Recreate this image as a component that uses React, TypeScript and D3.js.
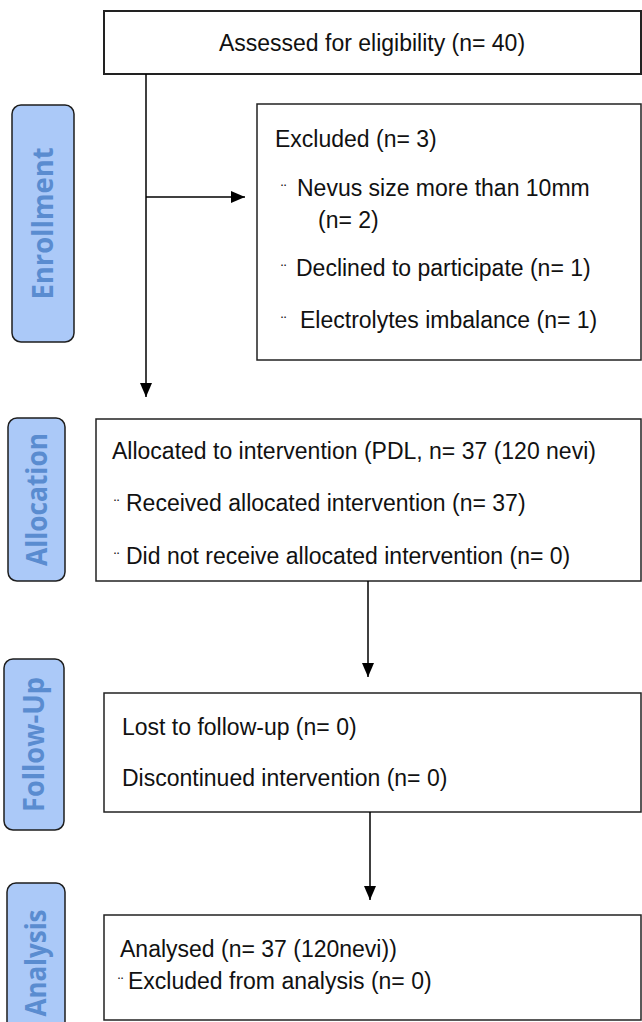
import React, { useEffect, useRef } from 'react';
import { select } from 'd3';

// phase labels on the left
const stages = ['Enrollment', 'Allocation', 'Follow-Up', 'Analysis'];

// box texts, one array per box
const assessedText = ['Assessed for eligibility (n= 40)'];
const excludedText = [
  'Excluded (n= 3)',
  'Nevus size more than 10mm',
  '(n= 2)',
  'Declined to participate (n= 1)',
  'Electrolytes imbalance (n= 1)',
];
const excludedBullets = [false, true, false, true, true];
const allocationText = [
  'Allocated to intervention (PDL, n= 37 (120 nevi)',
  'Received allocated intervention (n= 37)',
  'Did not receive allocated intervention (n= 0)',
];
const allocationBullets = [false, true, true];
const followUpText = ['Lost to follow-up (n= 0)', 'Discontinued intervention (n= 0)'];
const followUpBullets = [false, false];
const analysisText = ['Analysed (n= 37 (120nevi))', 'Excluded from analysis (n= 0)'];
const analysisBullets = [false, true];

// layout (pixels)
const stageBoxes = [
  { x: 12, y: 105, w: 62, h: 237, len: 152 },
  { x: 8, y: 418, w: 57, h: 163, len: 133 },
  { x: 4, y: 659, w: 60, h: 171, len: 135 },
  { x: 7, y: 883, w: 58, h: 160, len: 107 },
];

const boxLayout = [
  { x: 104, y: 11, w: 537, h: 63, sw: 2, anchor: 'middle', xs: [372], ys: [43], bx: 0 },
  { x: 257, y: 104, w: 384, h: 256, sw: 1.5, anchor: 'start', xs: [275, 297, 318, 296, 300], ys: [139, 188, 220, 268, 320], bx: 281 },
  { x: 96, y: 419, w: 545, h: 162, sw: 1.5, anchor: 'start', xs: [112, 126, 126], ys: [451, 503, 556], bx: 114 },
  { x: 104, y: 693, w: 537, h: 119, sw: 1.5, anchor: 'start', xs: [122, 122], ys: [727, 778], bx: 0 },
  { x: 104, y: 915, w: 537, h: 105, sw: 1.5, anchor: 'start', xs: [120, 128], ys: [949, 981], bx: 118 },
];

const arrows = [
  [146, 74, 146, 397],
  [146, 197, 245, 197],
  [368, 581, 368, 677],
  [370, 812, 370, 900],
];

const FONT = '"Liberation Sans", Arial, sans-serif';

const FlowChart = () => {
  const svgRef = useRef(null);

  useEffect(() => {
    const svg: any = select(svgRef.current);
    svg.selectAll('*').remove();

    svg
      .append('defs')
      .append('marker')
      .attr('id', 'arrow')
      .attr('markerUnits', 'userSpaceOnUse')
      .attr('viewBox', '0 0 14 12')
      .attr('refX', 14)
      .attr('refY', 6)
      .attr('markerWidth', 14)
      .attr('markerHeight', 12)
      .attr('orient', 'auto')
      .append('path')
      .attr('d', 'M0,0 L14,6 L0,12 Z')
      .attr('fill', '#000');

    // side labels
    const side = svg
      .selectAll('.stage')
      .data(stages)
      .join('g')
      .attr('class', 'stage');
    side
      .append('rect')
      .attr('x', (_: string, i: number) => stageBoxes[i].x)
      .attr('y', (_: string, i: number) => stageBoxes[i].y)
      .attr('width', (_: string, i: number) => stageBoxes[i].w)
      .attr('height', (_: string, i: number) => stageBoxes[i].h)
      .attr('rx', 9)
      .attr('fill', '#abc9f8')
      .attr('stroke', '#1e1e1e')
      .attr('stroke-width', 1.5);
    side
      .append('text')
      .attr('transform', (_: string, i: number) => {
        const b = stageBoxes[i];
        return `translate(${b.x + b.w / 2 + 10},${b.y + b.h / 2}) rotate(-90)`;
      })
      .attr('text-anchor', 'middle')
      .attr('font-family', '"Open Sans", Lato, sans-serif')
      .attr('font-weight', 700)
      .attr('font-size', 29)
      .attr('fill', '#5a8cd0')
      .attr('textLength', (_: string, i: number) => stageBoxes[i].len)
      .attr('lengthAdjust', 'spacingAndGlyphs')
      .text((d: string) => d);

    // content boxes
    const texts = [assessedText, excludedText, allocationText, followUpText, analysisText];
    const bullets = [[false], excludedBullets, allocationBullets, followUpBullets, analysisBullets];

    boxLayout.forEach((b, bi) => {
      const g = svg.append('g');
      g.append('rect')
        .attr('x', b.x)
        .attr('y', b.y)
        .attr('width', b.w)
        .attr('height', b.h)
        .attr('fill', '#fff')
        .attr('stroke', '#222')
        .attr('stroke-width', b.sw);
      texts[bi].forEach((t, li) => {
        g.append('text')
          .attr('x', b.xs[li])
          .attr('y', b.ys[li] + 8)
          .attr('text-anchor', b.anchor)
          .attr('font-family', FONT)
          .attr('font-size', 23)
          .attr('fill', '#111')
          .text(t);
        if (bullets[bi][li]) {
          g.append('text')
            .attr('x', b.bx)
            .attr('y', b.ys[li] + 8)
            .attr('font-family', FONT)
            .attr('font-size', 16)
            .attr('fill', '#111')
            .text('¨');
        }
      });
    });

    svg
      .selectAll('.arrow')
      .data(arrows)
      .join('line')
      .attr('class', 'arrow')
      .attr('x1', (d: number[]) => d[0])
      .attr('y1', (d: number[]) => d[1])
      .attr('x2', (d: number[]) => d[2])
      .attr('y2', (d: number[]) => d[3])
      .attr('stroke', '#000')
      .attr('stroke-width', 1.5)
      .attr('marker-end', 'url(#arrow)');
  }, []);

  return (
    <svg
      ref={svgRef}
      width={642}
      height={1022}
      style={{ position: 'absolute', left: 0, top: 0, background: '#fff' }}
    />
  );
};

export default function App() {
  return <FlowChart />;
}
